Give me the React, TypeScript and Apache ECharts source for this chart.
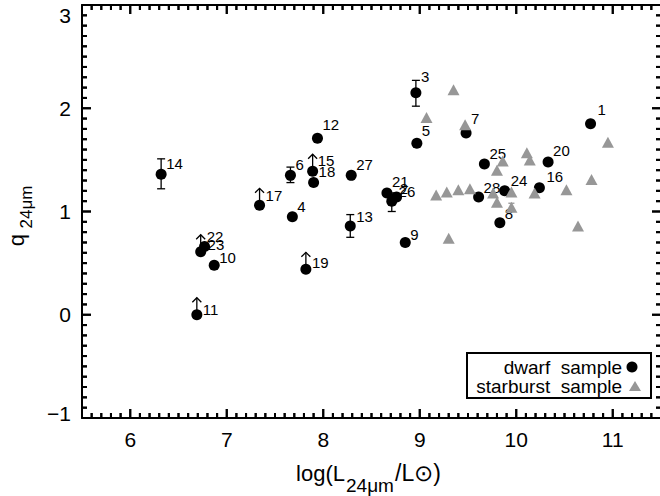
import React, { useEffect, useRef } from 'react';
import * as echarts from 'echarts';

// ---- data ----
const dwarfNames = ['1','2','3','4','5','6','7','8','9','10','11','12','13','14','15','16','17','18','19','20','21','22','23','24','25','26','27','28'];
const dwarfLogL = [10.77, 8.71, 8.96, 7.68, 8.97, 7.66, 9.48, 9.83, 8.85, 6.87, 6.69, 7.94, 8.28, 6.32, 7.89, 10.24, 7.34, 7.90, 7.82, 10.33, 8.66, 6.73, 6.77, 9.88, 9.67, 8.76, 8.29, 9.61];
const dwarfQ = [1.85, 1.10, 2.15, 0.95, 1.66, 1.35, 1.76, 0.89, 0.70, 0.48, 0.00, 1.71, 0.86, 1.36, 1.39, 1.23, 1.06, 1.28, 0.44, 1.48, 1.18, 0.61, 0.66, 1.20, 1.46, 1.14, 1.35, 1.14];

const lowerLimitNames = ['11', '15', '17', '19', '22'];

const dwarfErrNames = ['2', '3', '6', '13', '14'];
const dwarfErrLow = [1.00, 2.02, 1.28, 0.75, 1.22];
const dwarfErrHigh = [1.18, 2.27, 1.43, 0.97, 1.51];

const starLogL = [9.07, 9.35, 9.47, 9.17, 9.28, 9.40, 9.52, 9.30, 9.80, 9.86, 9.76, 9.80, 9.95, 9.95, 10.11, 10.14, 10.19, 10.52, 10.64, 10.78, 10.95];
const starQ = [1.91, 2.18, 1.84, 1.16, 1.19, 1.21, 1.22, 0.74, 1.40, 1.49, 1.18, 1.09, 1.19, 1.04, 1.57, 1.50, 1.18, 1.21, 0.86, 1.31, 1.67];

const starErrLogL = [9.95];
const starErrLow = [1.00];
const starErrHigh = [1.08];

const xTicks = [6, 7, 8, 9, 10, 11];
const yTicks = [-1, 0, 1, 2, 3];
const xRange = [5.5, 11.5];
const yRange = [-1, 3];
const minorStep = 0.1;

const legendNames = ['dwarf  sample', 'starburst  sample'];

// label placement (offset of label's left edge / vertical centre from point centre)
const defaultLabelOffset = [5, -11];
const labelOffsets: Record<string, number[]> = {
  '1': [7, -14], '2': [8, -13], '3': [5, -16], '5': [5, -13], '7': [5, -15],
  '12': [5, -14], '9': [5, -8], '10': [5, -8], '11': [6, -5], '13': [6, -9],
  '8': [5, -9], '19': [6, -7], '22': [6, -15], '23': [3, -2], '26': [2, -6],
  '17': [6, -10], '4': [5, -10], '28': [5, -10], '24': [6, -10], '16': [7, -11],
};

const FONT = "'Liberation Sans', Arial, Helvetica, sans-serif";
const GRAY = '#979797';
const DOT = 11;
const MAJOR_LEN = 9;
const MINOR_LEN = 5;

export default function App() {
  const ref = useRef<HTMLDivElement>(null);

  useEffect(() => {
    document.body.style.margin = '0';
    if (!ref.current) return;
    const chart = echarts.init(ref.current, null, { renderer: 'svg' });

    const dwarfData = dwarfNames.map((n, i) => {
      const off = labelOffsets[n] || defaultLabelOffset;
      return {
        name: n,
        value: [dwarfLogL[i], dwarfQ[i]],
        label: { position: [DOT / 2 + off[0], DOT / 2 + off[1]] },
      };
    });
    const limitData = lowerLimitNames.map((n) => {
      const i = dwarfNames.indexOf(n);
      return [dwarfLogL[i], dwarfQ[i]];
    });
    const dwarfErrData = dwarfErrNames.map((n, k) => {
      const i = dwarfNames.indexOf(n);
      return [dwarfLogL[i], dwarfErrLow[k], dwarfErrHigh[k]];
    });
    const starErrData = starErrLogL.map((x, k) => [x, starErrLow[k], starErrHigh[k]]);
    const starData = starLogL.map((x, i) => [x, starQ[i]]);

    // tick positions along both axes: minor every 0.1, major at labelled values
    const xTickData: number[][] = [];
    const yTickData: number[][] = [];
    const nx = Math.round((xRange[1] - xRange[0]) / minorStep);
    for (let k = 0; k <= nx; k++) {
      const v = Math.round((xRange[0] + k * minorStep) * 10) / 10;
      xTickData.push([v, yRange[0], yRange[1], xTicks.indexOf(v) >= 0 ? 1 : 0]);
    }
    const ny = Math.round((yRange[1] - yRange[0]) / minorStep);
    for (let k = 0; k <= ny; k++) {
      const v = Math.round((yRange[0] + k * minorStep) * 10) / 10;
      yTickData.push([xRange[0], xRange[1], v, yTicks.indexOf(v) >= 0 ? 1 : 0]);
    }

    const xTickRender = (params: any, api: any) => {
      const a = api.coord([api.value(0), api.value(1)]);
      const b = api.coord([api.value(0), api.value(2)]);
      const len = api.value(3) > 0.5 ? MAJOR_LEN : MINOR_LEN;
      return {
        type: 'group',
        children: [
          { type: 'line', shape: { x1: a[0], y1: a[1], x2: a[0], y2: a[1] - len }, style: { stroke: '#000', lineWidth: 2 } },
          { type: 'line', shape: { x1: b[0], y1: b[1], x2: b[0], y2: b[1] + len }, style: { stroke: '#000', lineWidth: 2 } },
        ],
      };
    };
    const yTickRender = (params: any, api: any) => {
      const a = api.coord([api.value(0), api.value(2)]);
      const b = api.coord([api.value(1), api.value(2)]);
      const len = api.value(3) > 0.5 ? MAJOR_LEN : MINOR_LEN;
      return {
        type: 'group',
        children: [
          { type: 'line', shape: { x1: a[0], y1: a[1], x2: a[0] + len, y2: a[1] }, style: { stroke: '#000', lineWidth: 2 } },
          { type: 'line', shape: { x1: b[0], y1: b[1], x2: b[0] - len, y2: b[1] }, style: { stroke: '#000', lineWidth: 2 } },
        ],
      };
    };

    const errRender = (color: string, cw: number) => (params: any, api: any) => {
      const x = api.value(0);
      const a = api.coord([x, api.value(1)]);
      const b = api.coord([x, api.value(2)]);
      const st = { stroke: color, lineWidth: 1.3 };
      return {
        type: 'group',
        children: [
          { type: 'line', shape: { x1: a[0], y1: a[1], x2: b[0], y2: b[1] }, style: { ...st } },
          { type: 'line', shape: { x1: a[0] - cw, y1: a[1], x2: a[0] + cw, y2: a[1] }, style: { ...st } },
          { type: 'line', shape: { x1: b[0] - cw, y1: b[1], x2: b[0] + cw, y2: b[1] }, style: { ...st } },
        ],
      };
    };

    const arrowRender = (params: any, api: any) => {
      const p = api.coord([api.value(0), api.value(1)]);
      return {
        type: 'group',
        children: [
          { type: 'line', shape: { x1: p[0], y1: p[1], x2: p[0], y2: p[1] - 17 }, style: { stroke: '#000', lineWidth: 1.3 } },
          { type: 'polyline', shape: { points: [[p[0] - 4.5, p[1] - 12.5], [p[0], p[1] - 17], [p[0] + 4.5, p[1] - 12.5]] }, style: { stroke: '#000', lineWidth: 1.3, fill: 'none' } },
        ],
      };
    };

    const axisX = (pos: 'bottom' | 'top', labels: boolean) => ({
      type: 'value', position: pos, min: xRange[0], max: xRange[1], interval: 0.5,
      axisLine: { show: true, onZero: false, lineStyle: { color: '#000', width: 2 } },
      axisTick: { show: false },
      axisLabel: {
        show: labels, customValues: xTicks, margin: 11, fontSize: 21, fontFamily: FONT, color: '#000',
        formatter: (v: number) => (Math.abs(v - Math.round(v)) < 1e-6 ? String(Math.round(v)) : ''),
      },
      splitLine: { show: false },
    });
    const axisY = (pos: 'left' | 'right', labels: boolean) => ({
      type: 'value', position: pos, min: yRange[0], max: yRange[1], interval: 1,
      axisLine: { show: true, onZero: false, lineStyle: { color: '#000', width: 2 } },
      axisTick: { show: false },
      axisLabel: {
        show: labels, margin: 11, fontSize: 21, fontFamily: FONT, color: '#000',
        formatter: (v: number) => {
          const r = Math.round(v);
          if (r === 3) return '{t|3}';
          if (r === -1) return '{b|\u22121}';
          return r < 0 ? '\u2212' + Math.abs(r) : String(r);
        },
        rich: {
          t: { fontSize: 21, fontFamily: FONT, color: '#000', padding: [20, 0, 0, 0] },
          b: { fontSize: 21, fontFamily: FONT, color: '#000', padding: [0, 0, 10, 0] },
        },
      },
      splitLine: { show: false },
    });

    const baseGraphics: any[] = [
      // x-axis title
      { type: 'text', x: 345, y: 473, style: { text: 'log(L', fontSize: 22, fontFamily: FONT, fill: '#000', align: 'right', verticalAlign: 'middle' } },
      { type: 'text', x: 346, y: 485, style: { text: '24\u03bcm', fontSize: 19, fontFamily: FONT, fill: '#000', align: 'left', verticalAlign: 'middle' } },
      { type: 'text', x: 395, y: 473, style: { text: '/L\u2299)', fontSize: 23, fontFamily: FONT, fill: '#000', align: 'left', verticalAlign: 'middle' } },
      // y-axis title
      { type: 'text', x: 16, y: 240, rotation: Math.PI / 2, style: { text: 'q', fontSize: 22, fontFamily: FONT, fill: '#000', align: 'center', verticalAlign: 'middle' } },
      { type: 'text', x: 26, y: 207, rotation: Math.PI / 2, style: { text: '24\u03bcm', fontSize: 17, fontFamily: FONT, fill: '#000', align: 'center', verticalAlign: 'middle' } },
      // legend
      {
        type: 'group', z: 100,
        children: [
          { type: 'rect', shape: { x: 467, y: 353, width: 184, height: 45 }, style: { fill: '#fff', stroke: '#000', lineWidth: 2 } },
          { type: 'text', x: 622, y: 367, style: { text: legendNames[0], fontSize: 19, fontFamily: FONT, fill: '#000', align: 'right', verticalAlign: 'middle' } },
          { type: 'circle', shape: { cx: 632, cy: 367, r: 5.5 }, style: { fill: '#000' } },
          { type: 'text', x: 622, y: 386, style: { text: legendNames[1], fontSize: 19, fontFamily: FONT, fill: '#000', align: 'right', verticalAlign: 'middle' } },
          { type: 'polygon', shape: { points: [[629, 391], [641, 391], [635, 381]] }, style: { fill: GRAY } },
        ],
      },
    ];

    const option: any = {
      animation: false,
      backgroundColor: '#fff',
      grid: { left: 82, top: 5, width: 579, height: 413, containLabel: false, outerBoundsMode: 'none' },
      xAxis: [axisX('bottom', true), axisX('top', false)],
      yAxis: [axisY('left', true), axisY('right', false)],
      series: [
        {
          type: 'custom', name: 'xTicks', xAxisIndex: 0, yAxisIndex: 0, silent: true, z: 5,
          renderItem: xTickRender, encode: { x: 0, y: [1, 2] }, data: xTickData,
        },
        {
          type: 'custom', name: 'yTicks', xAxisIndex: 0, yAxisIndex: 0, silent: true, z: 5,
          renderItem: yTickRender, encode: { x: [0, 1], y: 2 }, data: yTickData,
        },
        {
          type: 'custom', name: 'dwarfErr', xAxisIndex: 0, yAxisIndex: 0, silent: true, z: 1,
          renderItem: errRender('#000', 4), encode: { x: 0, y: [1, 2] }, data: dwarfErrData,
        },
        {
          type: 'custom', name: 'limits', xAxisIndex: 0, yAxisIndex: 0, silent: true, z: 1,
          renderItem: arrowRender, encode: { x: 0, y: 1 }, data: limitData,
        },
        {
          type: 'scatter', name: legendNames[0], xAxisIndex: 0, yAxisIndex: 0, silent: true, z: 2,
          symbol: 'circle', symbolSize: DOT,
          itemStyle: { color: '#000', opacity: 1 },
          label: {
            show: true, align: 'left', verticalAlign: 'middle',
            formatter: '{b}', fontSize: 15, fontFamily: FONT, color: '#000', textBorderWidth: 0,
          },
          data: dwarfData,
        },
        {
          type: 'custom', name: 'starErr', xAxisIndex: 0, yAxisIndex: 0, silent: true, z: 3,
          renderItem: errRender(GRAY, 3), encode: { x: 0, y: [1, 2] }, data: starErrData,
        },
        {
          type: 'scatter', name: legendNames[1], xAxisIndex: 0, yAxisIndex: 0, silent: true, z: 4,
          symbol: 'triangle', symbolSize: [12, 11],
          itemStyle: { color: GRAY, opacity: 1 },
          data: starData,
        },
      ],
      graphic: baseGraphics,
    };

    chart.setOption(option);

    // the same ticks again as graphic lines, placed through the chart's own scales
    const toPx = (x: number, y: number) => chart.convertToPixel({ gridIndex: 0 } as any, [x, y]) as number[];
    const lo = toPx(xRange[0], yRange[0]);
    const hi = toPx(xRange[1], yRange[1]);
    const ok = lo && hi && isFinite(lo[0]) && isFinite(lo[1]) && isFinite(hi[0]) && isFinite(hi[1]);
    if (ok) {
      const tickLines: any[] = [];
      xTickData.forEach((d) => {
        const len = d[3] > 0.5 ? MAJOR_LEN : MINOR_LEN;
        const px = toPx(d[0], yRange[0])[0];
        tickLines.push({ type: 'line', shape: { x1: px, y1: lo[1], x2: px, y2: lo[1] - len }, style: { stroke: '#000', lineWidth: 2 } });
        tickLines.push({ type: 'line', shape: { x1: px, y1: hi[1], x2: px, y2: hi[1] + len }, style: { stroke: '#000', lineWidth: 2 } });
      });
      yTickData.forEach((d) => {
        const len = d[3] > 0.5 ? MAJOR_LEN : MINOR_LEN;
        const py = toPx(xRange[0], d[2])[1];
        tickLines.push({ type: 'line', shape: { x1: lo[0], y1: py, x2: lo[0] + len, y2: py }, style: { stroke: '#000', lineWidth: 2 } });
        tickLines.push({ type: 'line', shape: { x1: hi[0], y1: py, x2: hi[0] - len, y2: py }, style: { stroke: '#000', lineWidth: 2 } });
      });
      chart.setOption({ graphic: [...baseGraphics, { type: 'group', z: 50, silent: true, children: tickLines }] });
    }

    return () => chart.dispose();
  }, []);

  return <div ref={ref} style={{ width: 660, height: 496, position: 'absolute', left: 0, top: 0 }} />;
}
